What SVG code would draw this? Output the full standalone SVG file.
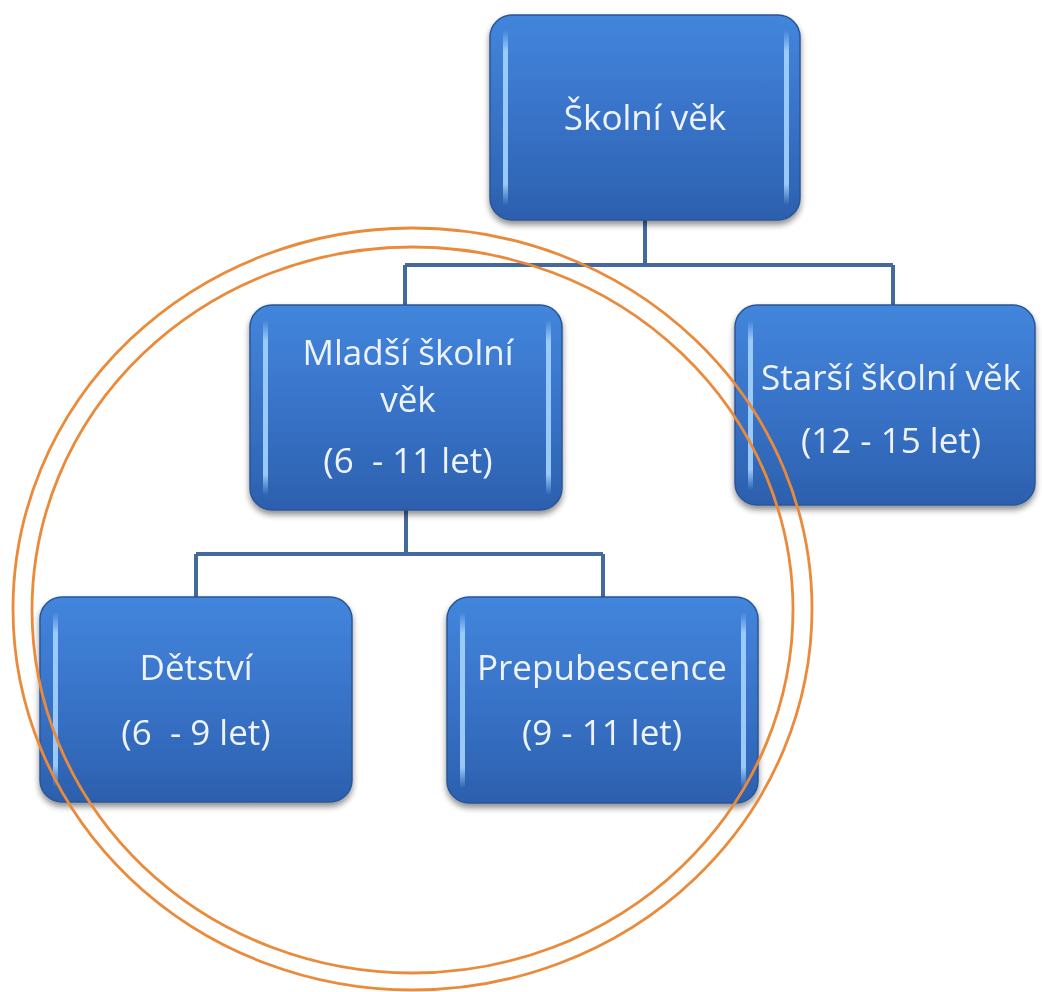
<svg xmlns="http://www.w3.org/2000/svg" width="1042" height="992" viewBox="0 0 1042 992">
  <defs>
    <linearGradient id="boxFill" x1="0" y1="0" x2="0" y2="1">
      <stop offset="0" stop-color="#4286dc"/>
      <stop offset="0.5" stop-color="#3873c8"/>
      <stop offset="1" stop-color="#2c60ae"/>
    </linearGradient>
    <linearGradient id="edgeGlow" x1="0" y1="0" x2="0" y2="1">
      <stop offset="0" stop-color="#a4d4ff" stop-opacity="0"/>
      <stop offset="0.12" stop-color="#a4d4ff" stop-opacity="0.9"/>
      <stop offset="0.88" stop-color="#a4d4ff" stop-opacity="0.9"/>
      <stop offset="1" stop-color="#a4d4ff" stop-opacity="0"/>
    </linearGradient>
    <filter id="shadow" x="-10%" y="-10%" width="120%" height="130%">
      <feGaussianBlur in="SourceAlpha" stdDeviation="3"/>
      <feOffset dx="0" dy="4"/>
      <feComponentTransfer><feFuncA type="linear" slope="0.45"/></feComponentTransfer>
      <feMerge><feMergeNode/><feMergeNode in="SourceGraphic"/></feMerge>
    </filter>
    <filter id="soft" x="-5%" y="-5%" width="110%" height="110%">
      <feGaussianBlur stdDeviation="0.6"/>
    </filter>
  </defs>
  <style>
    .box { fill: url(#boxFill); stroke: #2b5596; stroke-width: 1.5; }
    .glow { fill: url(#edgeGlow); }
    .lbl { font-family: "Open Sans", "Liberation Sans", sans-serif; font-size: 35px; fill: #eef3fb; text-anchor: middle; white-space: pre; }
    .link { fill: none; stroke: #44699c; stroke-width: 4; }
    .ring { fill: none; stroke: #ea8a3a; stroke-width: 2.8; }
  </style>

  <rect width="1042" height="992" fill="#ffffff"/>

  <!-- connectors -->
  <g id="connectors">
    <path class="link" d="M645 220 V265 M405 265 H893 M405 265 V305 M893 265 V305"/>
    <path class="link" d="M406 510 V554 M196 554 H603 M196 554 V597 M603 554 V597"/>
  </g>

  <!-- Školní věk -->
  <g id="node-skolni-vek" filter="url(#shadow)">
    <rect class="box" x="490" y="15" width="310" height="205" rx="22"/>
    <rect class="glow" x="503" y="30" width="5" height="175" rx="2.5"/>
    <rect class="glow" x="784" y="30" width="5" height="175" rx="2.5"/>
    <text class="lbl" x="645" y="130">Školní věk</text>
  </g>

  <!-- Mladší školní věk -->
  <g id="node-mladsi" filter="url(#shadow)">
    <rect class="box" x="250" y="305" width="312" height="205" rx="22"/>
    <rect class="glow" x="263" y="320" width="5" height="175" rx="2.5"/>
    <rect class="glow" x="546" y="320" width="5" height="175" rx="2.5"/>
    <text class="lbl" x="408" y="365">Mladší školní</text>
    <text class="lbl" x="408" y="412">věk</text>
    <text class="lbl" x="408" y="473" xml:space="preserve">(6  - 11 let)</text>
  </g>

  <!-- Starší školní věk -->
  <g id="node-starsi" filter="url(#shadow)">
    <rect class="box" x="735" y="305" width="300" height="200" rx="22"/>
    <rect class="glow" x="748" y="320" width="5" height="170" rx="2.5"/>
    <text class="lbl" x="891" y="390">Starší školní věk</text>
    <text class="lbl" x="891" y="453">(12 - 15 let)</text>
  </g>

  <!-- Dětství -->
  <g id="node-detstvi" filter="url(#shadow)">
    <rect class="box" x="40" y="597" width="312" height="205" rx="22"/>
    <rect class="glow" x="53" y="612" width="5" height="175" rx="2.5"/>
    <text class="lbl" x="196" y="680">Dětství</text>
    <text class="lbl" x="196" y="745" xml:space="preserve">(6  - 9 let)</text>
  </g>

  <!-- Prepubescence -->
  <g id="node-prepubescence" filter="url(#shadow)">
    <rect class="box" x="447" y="597" width="311" height="206" rx="22"/>
    <rect class="glow" x="460" y="612" width="5" height="176" rx="2.5"/>
    <rect class="glow" x="741" y="612" width="5" height="176" rx="2.5"/>
    <text class="lbl" x="602" y="680">Prepubescence</text>
    <text class="lbl" x="602" y="745">(9 - 11 let)</text>
  </g>

  <!-- double orange ring around the younger school-age branch -->
  <g id="ring" filter="url(#soft)">
    <ellipse class="ring" cx="412.5" cy="609" rx="399.5" ry="381"/>
    <ellipse class="ring" cx="412.5" cy="610" rx="380.5" ry="363"/>
  </g>
</svg>
